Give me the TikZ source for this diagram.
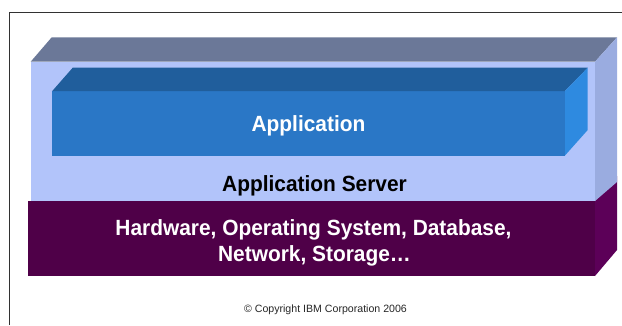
\documentclass[tikz,border=0pt]{standalone}
\usepackage{fontspec}
\setmainfont{Liberation Sans}
\definecolor{srvtop}{RGB}{107,120,152}
\definecolor{srvfront}{RGB}{178,196,250}
\definecolor{srvside}{RGB}{154,172,224}
\definecolor{apptop}{RGB}{32,94,156}
\definecolor{appfront}{RGB}{42,119,198}
\definecolor{appside}{RGB}{46,138,224}
\definecolor{hwfront}{RGB}{79,0,72}
\definecolor{hwside}{RGB}{92,0,88}
\definecolor{framecol}{RGB}{50,50,50}
\newcommand{\narrowtxt}[1]{\scalebox{0.95}[1]{#1}}
\tikzset{
  bigtext/.style={font=\fontsize{22}{26}\selectfont\bfseries, inner sep=0pt, anchor=base},
  smalltext/.style={font=\fontsize{10.6}{12}\selectfont, inner sep=0pt, anchor=base, text=black!85},
}
\begin{document}
\begin{tikzpicture}[x=1pt,y=-1pt]
\useasboundingbox[fill=white] (0,0) rectangle (622,325);
% frame
\draw[framecol, line width=1pt] (9.3,325) -- (9.3,12.7) -- (622,12.7);
% hardware layer (behind)
\fill[hwside] (595,201) -- (617,176) -- (617,250) -- (595,276) -- cycle;
\fill[hwfront] (28,201) rectangle (595,276);
% application server layer
\fill[srvfront] (30.7,61.7) rectangle (595,201);
\fill[srvtop] (30.7,61.7) -- (51.7,37.3) -- (617,37.3) -- (595,61.7) -- cycle;
\fill[srvside] (595,61.7) -- (617,37.3) -- (617,182) -- (595,201) -- cycle;
% application layer
\fill[appfront] (52.3,91) rectangle (565,155.5);
\fill[apptop] (52.3,91) -- (72.7,67.7) -- (587.7,67.7) -- (565,91) -- cycle;
\fill[appside] (565,91) -- (587.7,67.7) -- (587.7,130) -- (565,155.5) -- cycle;
% texts
\node[bigtext, text=white] (app) at (308.5,131.7) {\narrowtxt{Application}};
\node[bigtext, text=black] (srv) at (314.5,191) {\narrowtxt{Application Server}};
\node[bigtext, text=white] (hw1) at (313.5,235.7) {\narrowtxt{Hardware, Operating System, Database,}};
\node[bigtext, text=white] (hw2) at (314.5,261.7) {\narrowtxt{Network, Storage…}};
\node[smalltext] (copy) at (325.5,312.7) {© Copyright IBM Corporation 2006};
\end{tikzpicture}
\end{document}
